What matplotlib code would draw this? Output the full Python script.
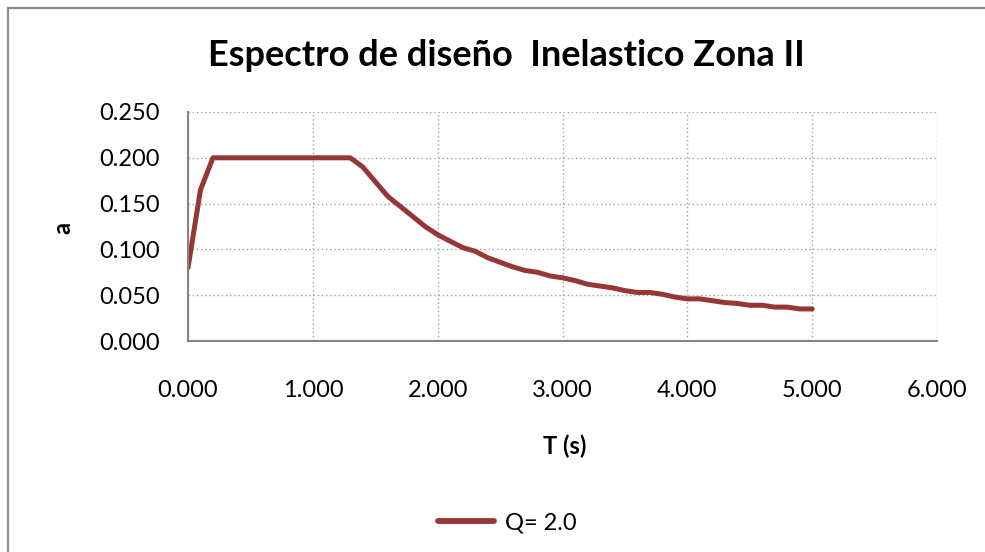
import matplotlib.pyplot as plt
import matplotlib.patches as patches
import matplotlib.ticker as ticker

plt.rcParams['font.family'] = ['Lato', 'DejaVu Sans']

# Periodo T (s) y aceleracion espectral a, Q = 2.0
periodo = [0.0, 0.1, 0.2, 0.3, 0.4, 0.5, 0.6, 0.7, 0.8, 0.9, 1.0,
           1.1, 1.2, 1.3, 1.4, 1.5, 1.6, 1.7, 1.8, 1.9, 2.0,
           2.1, 2.2, 2.3, 2.4, 2.5, 2.6, 2.7, 2.8, 2.9, 3.0,
           3.1, 3.2, 3.3, 3.4, 3.5, 3.6, 3.7, 3.8, 3.9, 4.0,
           4.1, 4.2, 4.3, 4.4, 4.5, 4.6, 4.7, 4.8, 4.9, 5.0]
acel = [0.080, 0.165, 0.200, 0.200, 0.200, 0.200, 0.200, 0.200, 0.200, 0.200, 0.200,
        0.200, 0.200, 0.200, 0.190, 0.174, 0.158, 0.147, 0.136, 0.125, 0.116,
        0.109, 0.102, 0.098, 0.091, 0.086, 0.081, 0.077, 0.075, 0.071, 0.069,
        0.066, 0.062, 0.060, 0.058, 0.055, 0.053, 0.053, 0.051, 0.048, 0.046,
        0.046, 0.044, 0.042, 0.041, 0.039, 0.039, 0.037, 0.037, 0.035, 0.035]
serie = "Q= 2.0"

fig = plt.figure(figsize=(9.85, 5.52), dpi=100)
ax = fig.add_axes([188 / 985, 1 - 341 / 552, (937 - 188) / 985, (341 - 112) / 552])

# marco del grafico
fig.patches.append(patches.Rectangle((8 / 985, -0.1), 1.2, 1 - 8 / 552 + 0.1,
                                     transform=fig.transFigure, fill=False,
                                     edgecolor='#8c8c8c', linewidth=1.6))

ax.plot(periodo, acel, color='#953735', linewidth=3.6, label=serie,
        solid_capstyle='round', solid_joinstyle='round')

ax.set_xlim(0, 6)
ax.set_ylim(0, 0.25)
ax.xaxis.set_major_locator(ticker.MultipleLocator(1))
ax.yaxis.set_major_locator(ticker.MultipleLocator(0.05))
ax.xaxis.set_major_formatter(ticker.FormatStrFormatter('%.3f'))
ax.yaxis.set_major_formatter(ticker.FormatStrFormatter('%.3f'))
ax.tick_params(axis='both', length=0, labelsize=17, colors='black')
ax.tick_params(axis='x', pad=28)
ax.tick_params(axis='y', pad=20)

ax.grid(True, linestyle=(0, (1, 2)), color='#a0a0a0', linewidth=1.0)
ax.spines['top'].set_visible(False)
ax.spines['right'].set_visible(False)
for side in ['left', 'bottom']:
    ax.spines[side].set_color('#868686')
    ax.spines[side].set_linewidth(1.5)

fig.text(506 / 985, 1 - 55 / 552, "Espectro de diseño  Inelastico Zona II",
         ha='center', va='center', fontsize=26, fontweight='bold')
fig.text(565 / 985, 1 - 446 / 552, "T (s)", ha='center', va='center',
         fontsize=17, fontweight='bold')
fig.text(63 / 985, 1 - 228 / 552, "a", ha='center', va='center',
         fontsize=17, fontweight='bold', rotation=90)

fig.legend(loc='center', bbox_to_anchor=(507 / 985, 1 - 523 / 552), frameon=False,
           fontsize=17, handlelength=2.4, handletextpad=0.45)
for line in fig.legends[0].get_lines():
    line.set_linewidth(4.2)

plt.savefig('out.png', dpi=100)
